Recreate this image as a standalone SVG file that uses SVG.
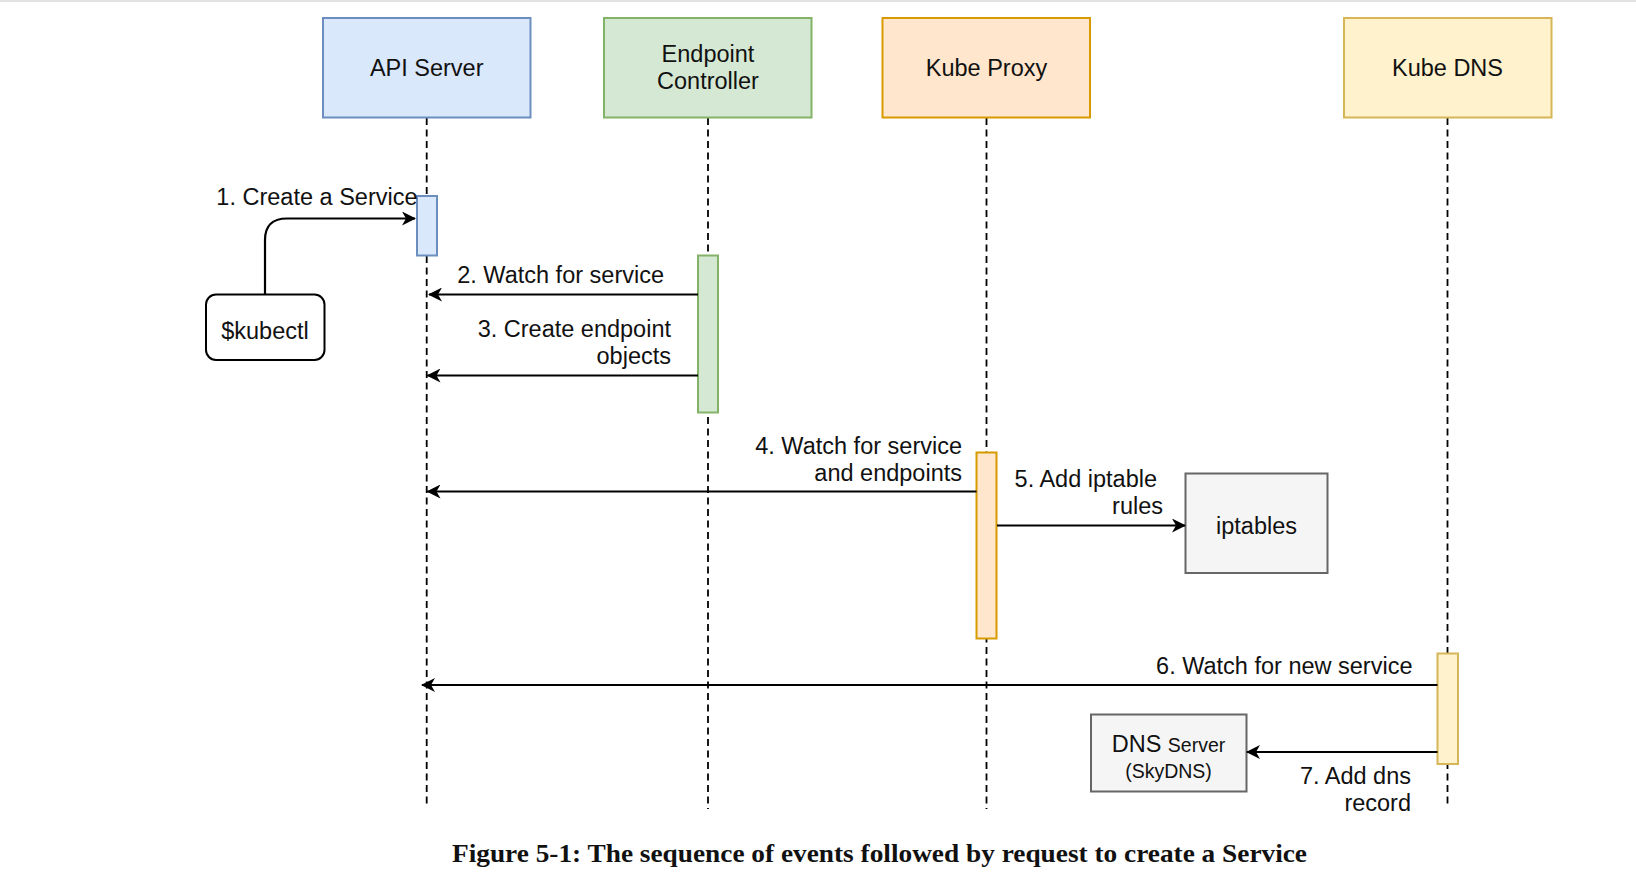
<svg xmlns="http://www.w3.org/2000/svg" width="1636" height="886" viewBox="0 0 1636 886">
<style>
  text { font-family: "Liberation Sans", Arial, sans-serif; font-size: 23.5px; fill: #111; }
  .lbl { text-anchor: end; }
  .ctr { text-anchor: middle; }
  .small { font-size: 19.5px; }
  .life { stroke: #000; stroke-width: 1.8; stroke-dasharray: 7 4.5; fill: none; }
  .msg { stroke: #000; stroke-width: 2.2; fill: none; marker-end: url(#arr); }
  .cap { font-family: "Liberation Serif", "Times New Roman", serif; font-weight: bold; font-size: 25px; }
</style>
<defs>
  <marker id="arr" viewBox="0 0 14 14" refX="13" refY="7" markerWidth="14" markerHeight="14" markerUnits="userSpaceOnUse" orient="auto">
    <path d="M0,0 L14,7 L0,14 L4,7 z" fill="#000"/>
  </marker>
</defs>
<rect x="0" y="0" width="1636" height="886" fill="#fff"/>
<rect x="0" y="0" width="1636" height="2" fill="#e2e2e2"/>

<g id="lifelines">
  <line class="life" x1="426.7" y1="118" x2="426.7" y2="806"/>
  <line class="life" x1="708" y1="118" x2="708" y2="809"/>
  <line class="life" x1="986.5" y1="118" x2="986.5" y2="809"/>
  <line class="life" x1="1447.5" y1="118" x2="1447.5" y2="806"/>
</g>

<g id="api-server">
  <rect x="323" y="18" width="207.5" height="99.5" fill="#dae8fc" stroke="#6c8ebf" stroke-width="2"/>
  <text class="ctr" x="426.7" y="75.5">API Server</text>
</g>
<g id="endpoint-controller">
  <rect x="604" y="18" width="207.5" height="99.5" fill="#d5e8d4" stroke="#82b366" stroke-width="2"/>
  <text class="ctr" x="708" y="61.5">Endpoint</text>
  <text class="ctr" x="708" y="88.5">Controller</text>
</g>
<g id="kube-proxy">
  <rect x="882.5" y="18" width="207.5" height="99.5" fill="#ffe6cc" stroke="#d79b00" stroke-width="2"/>
  <text class="ctr" x="986.5" y="75.5">Kube Proxy</text>
</g>
<g id="kube-dns">
  <rect x="1344" y="18" width="207.5" height="99.5" fill="#fff2cc" stroke="#d6b656" stroke-width="2"/>
  <text class="ctr" x="1447.5" y="75.5">Kube DNS</text>
</g>

<g id="api-activation">
  <rect x="417" y="196" width="20" height="59.5" fill="#dae8fc" stroke="#6c8ebf" stroke-width="2"/>
</g>
<g id="endpoint-activation">
  <rect x="698" y="255.5" width="20" height="157" fill="#d5e8d4" stroke="#82b366" stroke-width="2"/>
</g>
<g id="proxy-activation">
  <rect x="976.5" y="452.5" width="20" height="186" fill="#ffe6cc" stroke="#d79b00" stroke-width="2"/>
</g>
<g id="dns-activation">
  <rect x="1437.5" y="653.5" width="20.5" height="110.5" fill="#fff2cc" stroke="#d6b656" stroke-width="2"/>
</g>

<g id="kubectl">
  <rect x="206" y="294.5" width="118.5" height="65.5" rx="10" ry="10" fill="#fff" stroke="#000" stroke-width="2"/>
  <text class="ctr" x="265" y="338.5">$kubectl</text>
</g>
<g id="iptables">
  <rect x="1185.5" y="473.5" width="142" height="99.5" fill="#f5f5f5" stroke="#666" stroke-width="2"/>
  <text class="ctr" x="1256.5" y="533.5">iptables</text>
</g>
<g id="dns-server">
  <rect x="1091" y="714.5" width="155.5" height="77" fill="#f5f5f5" stroke="#666" stroke-width="2"/>
  <text class="ctr" x="1168.5" y="751.5">DNS <tspan class="small">Server</tspan></text>
  <text class="ctr small" x="1168.5" y="777.5">(SkyDNS)</text>
</g>

<g id="connectors">
  <path class="msg" d="M265,294.5 L265,240 Q265,218.5 287,218.5 L415,218.5"/>
  <path class="msg" d="M698,294.5 L429,294.5"/>
  <path class="msg" d="M698,375.5 L427.5,375.5"/>
  <path class="msg" d="M976.5,491.5 L427.5,491.5"/>
  <path class="msg" d="M997,525.5 L1185,525.5"/>
  <path class="msg" d="M1437.5,685 L422,685"/>
  <path class="msg" d="M1437.5,752 L1247,752"/>
</g>

<g id="labels">
  <text class="lbl" x="417.5" y="205">1. Create a Service</text>
  <text class="lbl" x="664" y="283">2. Watch for service</text>
  <text class="lbl" x="671" y="337">3. Create endpoint</text>
  <text class="lbl" x="671" y="364">objects</text>
  <text class="lbl" x="962" y="453.5">4. Watch for service</text>
  <text class="lbl" x="962" y="481">and endpoints</text>
  <text class="lbl" x="1157" y="487">5. Add iptable</text>
  <text class="lbl" x="1163" y="514">rules</text>
  <text class="lbl" x="1412.5" y="674">6. Watch for new service</text>
  <text class="lbl" x="1411" y="784">7. Add dns</text>
  <text class="lbl" x="1411" y="811">record</text>
</g>

<text class="cap" x="452" y="861.5" textLength="855" lengthAdjust="spacingAndGlyphs">Figure 5-1: The sequence of events followed by request to create a Service</text>
</svg>
